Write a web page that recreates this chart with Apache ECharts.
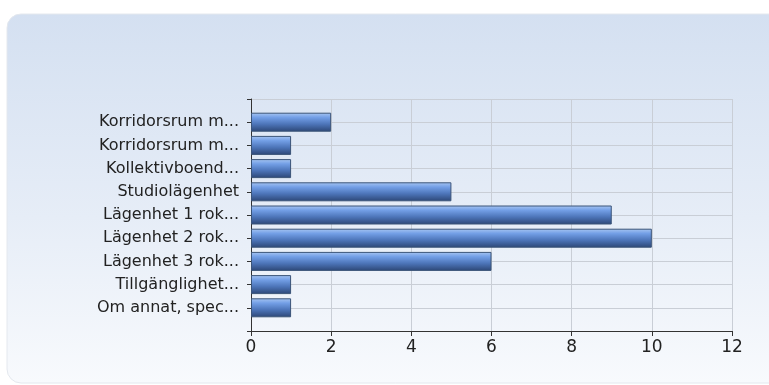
<!DOCTYPE html>
<html>
<head>
<meta charset="utf-8">
<script src="https://cdn.jsdelivr.net/npm/echarts@6/dist/echarts.min.js"></script>
<style>
  html, body { margin: 0; padding: 0; background: #ffffff; }
  #chart { width: 769px; height: 385px; }
</style>
</head>
<body>
<div id="chart"></div>
<script>
// Housing types and number of answers
const categories = [
  'Korridorsrum m...',
  'Korridorsrum m...',
  'Kollektivboend...',
  'Studiolägenhet',
  'Lägenhet 1 rok...',
  'Lägenhet 2 rok...',
  'Lägenhet 3 rok...',
  'Tillgänglighet...',
  'Om annat, spec...'
];
const counts = [2, 1, 1, 5, 9, 10, 6, 1, 1];
const xTicks = { min: 0, max: 12, interval: 2 };

// Pad the category axis with an empty slot on each end so the bars sit
// one band away from the top and bottom of the plot.
const axisCats = [''].concat(categories, ['']);
const axisData = [null].concat(counts, [null]);

const chart = echarts.init(document.getElementById('chart'), null, { renderer: 'canvas' });

const barFill = new echarts.graphic.LinearGradient(0, 0, 0, 1, [
  { offset: 0, color: '#a8c6f2' },
  { offset: 0.25, color: '#739fe6' },
  { offset: 0.6, color: '#4d75b9' },
  { offset: 1, color: '#2c4675' }
]);

chart.setOption({
  animation: false,
  backgroundColor: '#ffffff',
  graphic: [{
    type: 'rect',
    z: -10,
    silent: true,
    shape: { x: 7, y: 14, width: 790, height: 369, r: 14 },
    style: {
      fill: new echarts.graphic.LinearGradient(0, 0, 0, 1, [
        { offset: 0, color: '#d4e0f1' },
        { offset: 0.55, color: '#e6edf7' },
        { offset: 1, color: '#f8fafd' }
      ]),
      stroke: '#e4e8ee',
      lineWidth: 1
    }
  }],
  grid: { left: 251, top: 99, width: 481, height: 232, containLabel: false },
  xAxis: {
    type: 'value',
    min: xTicks.min,
    max: xTicks.max,
    interval: xTicks.interval,
    axisLine: { show: true, lineStyle: { color: '#333333', width: 1 } },
    axisTick: { show: true, length: 5, lineStyle: { color: '#333333' } },
    axisLabel: {
      color: '#222222',
      fontFamily: 'DejaVu Sans, Verdana, sans-serif',
      fontSize: 17,
      margin: 8
    },
    splitLine: { show: true, lineStyle: { color: '#c9ced6', width: 1 } }
  },
  yAxis: {
    type: 'category',
    data: axisCats,
    inverse: true,
    boundaryGap: false,
    axisLine: { show: true, lineStyle: { color: '#333333', width: 1 } },
    axisTick: { show: true, length: 4, lineStyle: { color: '#333333' } },
    axisLabel: {
      color: '#222222',
      fontFamily: 'DejaVu Sans, Verdana, sans-serif',
      fontSize: 16,
      margin: 12,
      interval: 0
    },
    splitLine: { show: true, lineStyle: { color: '#c9ced6', width: 1 } }
  },
  series: [{
    type: 'bar',
    data: axisData,
    barWidth: 19,
    itemStyle: {
      color: barFill,
      borderColor: '#3b5478',
      borderWidth: 1
    }
  }]
});
</script>
</body>
</html>
